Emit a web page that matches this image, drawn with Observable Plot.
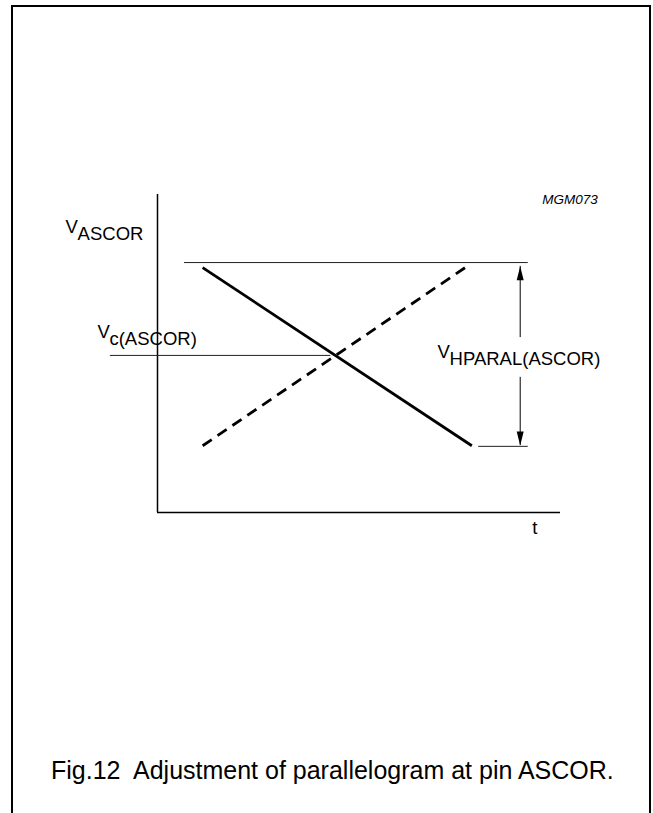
<!DOCTYPE html>
<html>
<head>
<meta charset="utf-8">
<script src="https://cdn.jsdelivr.net/npm/d3@7"></script>
<script src="https://cdn.jsdelivr.net/npm/@observablehq/plot@0.6"></script>
<style>
  html, body { margin: 0; padding: 0; background: #fff; }
  body { width: 653px; height: 813px; position: relative; overflow: hidden;
         font-family: "Liberation Sans", Arial, Helvetica, sans-serif; color: #000; }
  #frame { position: absolute; left: 11px; top: 5px; width: 636px; height: 840px;
           border: 2px solid #000; border-bottom: none; box-sizing: content-box; }
  #chart { position: absolute; left: 0; top: 0; }
  #caption { position: absolute; left: 51px; top: 758px; font-size: 25px; line-height: 25px;
             white-space: pre; }
</style>
</head>
<body>
<div id="frame"></div>
<div id="chart"></div>
<div id="caption"></div>
<script>
// ---- data (schematic units: t horizontal, V vertical) ----
const tDomain = [0, 10];
const vDomain = [0, 10];

const solidLine  = [{t: 1.12, v: 7.70}, {t: 7.80, v: 2.10}];
const dashedLine = [{t: 1.12, v: 2.10}, {t: 7.75, v: 7.80}];

const levelLines = [
  {name: "high",     v: 7.86, t1: 0.67,  t2: 9.20},
  {name: "low",      v: 2.08, t1: 7.97,  t2: 9.20},
  {name: "crossing", v: 4.94, t1: -1.17, t2: 4.30}
];

const arrowT = 9.0;
const arrowSegments = [
  {dir: "up",   v1: 5.50, v2: 7.74},
  {dir: "down", v1: 4.25, v2: 2.11}
];

const labels = [
  {main: "V", sub: "ASCOR",         t: -2.28, v: 8.80},
  {main: "V", sub: "c(ASCOR)",      t: -1.49, v: 5.50},
  {main: "V", sub: "HPARAL(ASCOR)", t: 6.95,  v: 4.87}
];
const axisLabels = [{text: "t", t: 9.30, v: -0.69}];
const figureIds  = [{text: "MGM073", t: 9.55, v: 9.69}];
const captionText = "Fig.12  Adjustment of parallelogram at pin ASCOR.";

// ---- arrowhead shape (filled triangle, tip at the anchor) ----
const headShape = {
  draw(context, l, r) {
    context.moveTo(0, -l);
    context.lineTo(r, 0);
    context.lineTo(-r, 0);
    context.closePath();
  }
};

const chart = Plot.plot({
  width: 653,
  height: 745,
  marginLeft: 157,
  marginRight: 93,
  marginTop: 194,
  marginBottom: 233,
  style: {fontFamily: "'Liberation Sans', Arial, Helvetica, sans-serif", background: "transparent", color: "#000"},
  x: {domain: tDomain, axis: null},
  y: {domain: vDomain, axis: null},
  marks: [
    // axes
    Plot.ruleX([0], {y1: vDomain[0], y2: vDomain[1], stroke: "#000", strokeWidth: 1.5}),
    Plot.ruleY([0], {x1: tDomain[0], x2: tDomain[1], stroke: "#000", strokeWidth: 1.5}),
    // level reference lines
    Plot.ruleY(levelLines, {y: "v", x1: "t1", x2: "t2", stroke: "#222", strokeWidth: 1}),
    // signals
    Plot.line(solidLine,  {x: "t", y: "v", stroke: "#000", strokeWidth: 2.8, strokeLinecap: "butt"}),
    Plot.line(dashedLine, {x: "t", y: "v", stroke: "#000", strokeWidth: 2.8, strokeLinecap: "butt", strokeDasharray: "11,7"}),
    // dimension arrow
    Plot.ruleX(arrowSegments, {x: () => arrowT, y1: "v1", y2: "v2", stroke: "#000", strokeWidth: 1}),
    Plot.vector(arrowSegments, {
      x: () => arrowT, y: "v2",
      rotate: d => d.dir === "up" ? 0 : 180,
      length: 14, r: 3.5, anchor: "end", shape: headShape,
      fill: "#000", stroke: "none"
    }),
    // labels
    Plot.text(labels, {x: "t", y: "v", text: "main", textAnchor: "start", lineAnchor: "bottom", fontSize: 18.5}),
    Plot.text(labels, {x: "t", y: "v", text: "sub", textAnchor: "start", lineAnchor: "bottom", fontSize: 18.5, dx: 12, dy: 7.5}),
    Plot.text(axisLabels, {x: "t", y: "v", text: "text", textAnchor: "start", lineAnchor: "bottom", fontSize: 18.5}),
    Plot.text(figureIds, {x: "t", y: "v", text: "text", textAnchor: "start", lineAnchor: "bottom", fontSize: 13.5, fontStyle: "italic"})
  ]
});

document.getElementById("chart").appendChild(chart);
document.getElementById("caption").textContent = captionText;
</script>
</body>
</html>
